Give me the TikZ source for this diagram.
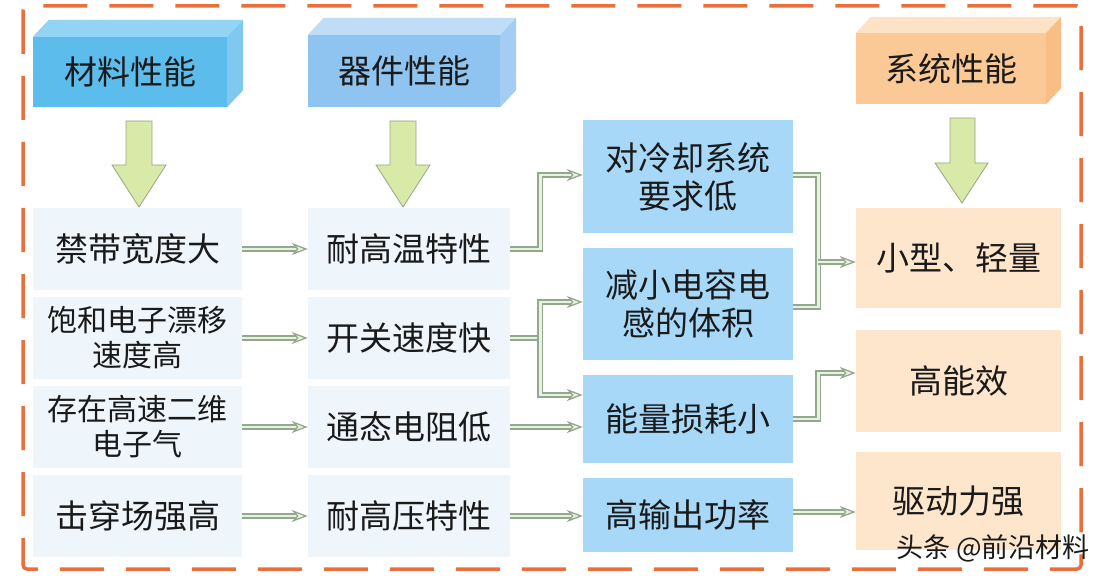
\documentclass[tikz,border=0pt]{standalone}
\usepackage{fontspec}
\newfontfamily\cjk{Noto Sans CJK SC}
\usetikzlibrary{arrows.meta,calc}
\definecolor{bord}{HTML}{E9703C}
\definecolor{hAfront}{HTML}{5CBCEC}
\definecolor{hAtop}{HTML}{93D4F5}
\definecolor{hAside}{HTML}{7FC8F0}
\definecolor{hBfront}{HTML}{8EC4EF}
\definecolor{hBtop}{HTML}{BFDDF6}
\definecolor{hBside}{HTML}{A3CDF2}
\definecolor{hCfront}{HTML}{FAC995}
\definecolor{hCtop}{HTML}{FDE3C6}
\definecolor{hCside}{HTML}{F8BE84}
\definecolor{paleblue}{HTML}{EEF6FC}
\definecolor{midblue}{HTML}{A8D8F8}
\definecolor{paleorange}{HTML}{FDE6CC}
\definecolor{garrowfill}{HTML}{D8E9A8}
\definecolor{garrowdraw}{HTML}{9AA38C}
\definecolor{connout}{HTML}{94A890}
\definecolor{connin}{HTML}{E8F3DE}
\definecolor{txt}{HTML}{1A1A1A}
\tikzset{
  base/.style={rectangle, inner sep=0pt, align=center, text=txt},
  bigtxt/.style={font=\cjk\fontsize{33}{38}\selectfont},
  smalltxt/.style={font=\cjk\fontsize{30}{35}\selectfont},
  header/.style={base, bigtxt},
  matbox/.style={base, fill=paleblue, minimum width=209pt, minimum height=82pt},
  devbox/.style={base, fill=paleblue, minimum width=202pt, minimum height=82pt, bigtxt},
  effbox/.style={base, fill=midblue, minimum width=210pt, bigtxt},
  sysbox/.style={base, fill=paleorange, minimum width=205pt, bigtxt},
  connline/.style={draw=connin, line width=2.6pt,
    preaction={draw=connout, line width=5.6pt, arrows=-}},
  conn/.style={draw=connin, line width=2.6pt,
    preaction={draw=connout, line width=5.6pt, arrows=-, shorten >=9pt},
    -{Stealth[length=16pt,width=12pt,inset=5pt,fill=connin,color=connout,line width=1.3pt]}},
  garrow/.style={fill=garrowfill, draw=garrowdraw, line width=0.8pt, line join=miter},
}
\begin{document}
\begin{tikzpicture}[x=1pt,y=-1pt]
\useasboundingbox (0,0) rectangle (1108,580);
\fill[white] (0,0) rectangle (1108,580);
\draw[bord, line width=3.5pt, dash pattern=on 44pt off 22pt, rounded corners=4pt] (23,6) rectangle (1081,569);

% headers (3D blocks)
\node[header, fill=hAfront, minimum width=194pt, minimum height=70pt] (h1) at (130,72) {材料性能};
\fill[hAtop] (h1.north west) -- ([shift={(16,-17)}]h1.north west) -- ([shift={(16,-17)}]h1.north east) -- (h1.north east) -- cycle;
\fill[hAside] (h1.north east) -- ([shift={(16,-17)}]h1.north east) -- ([shift={(16,-17)}]h1.south east) -- (h1.south east) -- cycle;

\node[header, fill=hBfront, minimum width=192pt, minimum height=72pt] (h2) at (404,71) {器件性能};
\fill[hBtop] (h2.north west) -- ([shift={(16,-17)}]h2.north west) -- ([shift={(16,-17)}]h2.north east) -- (h2.north east) -- cycle;
\fill[hBside] (h2.north east) -- ([shift={(16,-17)}]h2.north east) -- ([shift={(16,-17)}]h2.south east) -- (h2.south east) -- cycle;

\node[header, fill=hCfront, minimum width=190pt, minimum height=71pt] (h3) at (951,68.5) {系统性能};
\fill[hCtop] (h3.north west) -- ([shift={(15,-16)}]h3.north west) -- ([shift={(15,-16)}]h3.north east) -- (h3.north east) -- cycle;
\fill[hCside] (h3.north east) -- ([shift={(15,-16)}]h3.north east) -- ([shift={(15,-16)}]h3.south east) -- (h3.south east) -- cycle;

% green down arrows
\draw[garrow] (126,121) -- (152,121) -- (152,165) -- (166,165) -- (139,207) -- (112,165) -- (126,165) -- cycle;
\draw[garrow] (390,121) -- (416,121) -- (416,165) -- (430,165) -- (403,207) -- (376,165) -- (390,165) -- cycle;
\draw[garrow] (950,118) -- (975,118) -- (975,163) -- (988,163) -- (962,203) -- (935,163) -- (950,163) -- cycle;

% material column
\node[matbox, bigtxt] (m1) at (137.5,249) {禁带宽度大};
\node[matbox, smalltxt] (m2) at (137.5,338) {饱和电子漂移\\速度高};
\node[matbox, smalltxt] (m3) at (137.5,427) {存在高速二维\\电子气};
\node[matbox, bigtxt] (m4) at (137.5,516) {击穿场强高};

% device column
\node[devbox] (d1) at (409,249) {耐高温特性};
\node[devbox] (d2) at (409,338) {开关速度快};
\node[devbox] (d3) at (409,427) {通态电阻低};
\node[devbox] (d4) at (409,516) {耐高压特性};

% effect column
\node[effbox, minimum height=113pt] (s1) at (688,176.5) {对冷却系统\\要求低};
\node[effbox, minimum height=112pt] (s2) at (688,304) {减小电容电\\感的体积};
\node[effbox, minimum height=88pt] (s3) at (688,419) {能量损耗小};
\node[effbox, minimum height=74pt] (s4) at (688,515) {高输出功率};

% system column
\node[sysbox, minimum height=100pt] (t1) at (958.5,258) {小型、轻量};
\node[sysbox, minimum height=102pt] (t2) at (958.5,381) {高能效};
\node[sysbox, minimum height=98pt] (t3) at (958.5,501) {驱动力强};

% connectors material -> device
\draw[conn] (m1.east) -- (d1.west);
\draw[conn] (m2.east) -- (d2.west);
\draw[conn] (m3.east) -- (d3.west);
\draw[conn] (m4.east) -- (d4.west);

% device -> effect
\draw[conn] (d1.east) -- ++(30,0) |- ([yshift=1.5pt]s1.west);
\draw[connline] (d2.east) -- ++(30,0) coordinate (j2);
\draw[conn] (j2) |- ([yshift=2pt]s2.west);
\draw[conn] (j2) |- ([yshift=24pt]s3.west);
\draw[conn] (d3.east) -- (d3.east -| s3.west);
\draw[conn] (d4.east) -- (d4.east -| s4.west);

% effect -> system
\draw[connline] ([yshift=1.5pt]s1.east) -- ++(25,0) coordinate (b1) |- ([yshift=-3pt]s2.east);
\draw[conn] (b1 |- t1.west) ++(0,4) -- ([yshift=-4pt]t1.west);
\draw[conn] (s3.east) -- ++(25,0) |- ([yshift=8pt]t2.west);
\draw[conn] ([yshift=3pt]s4.east) -- ([yshift=3pt]s4.east -| t3.west);

% watermark
\node[text=txt, font=\cjk\fontsize{27}{30}\selectfont, anchor=east, inner sep=0pt] (wm) at (1090,548) {头条 @前沿材料};
\end{tikzpicture}
\end{document}
